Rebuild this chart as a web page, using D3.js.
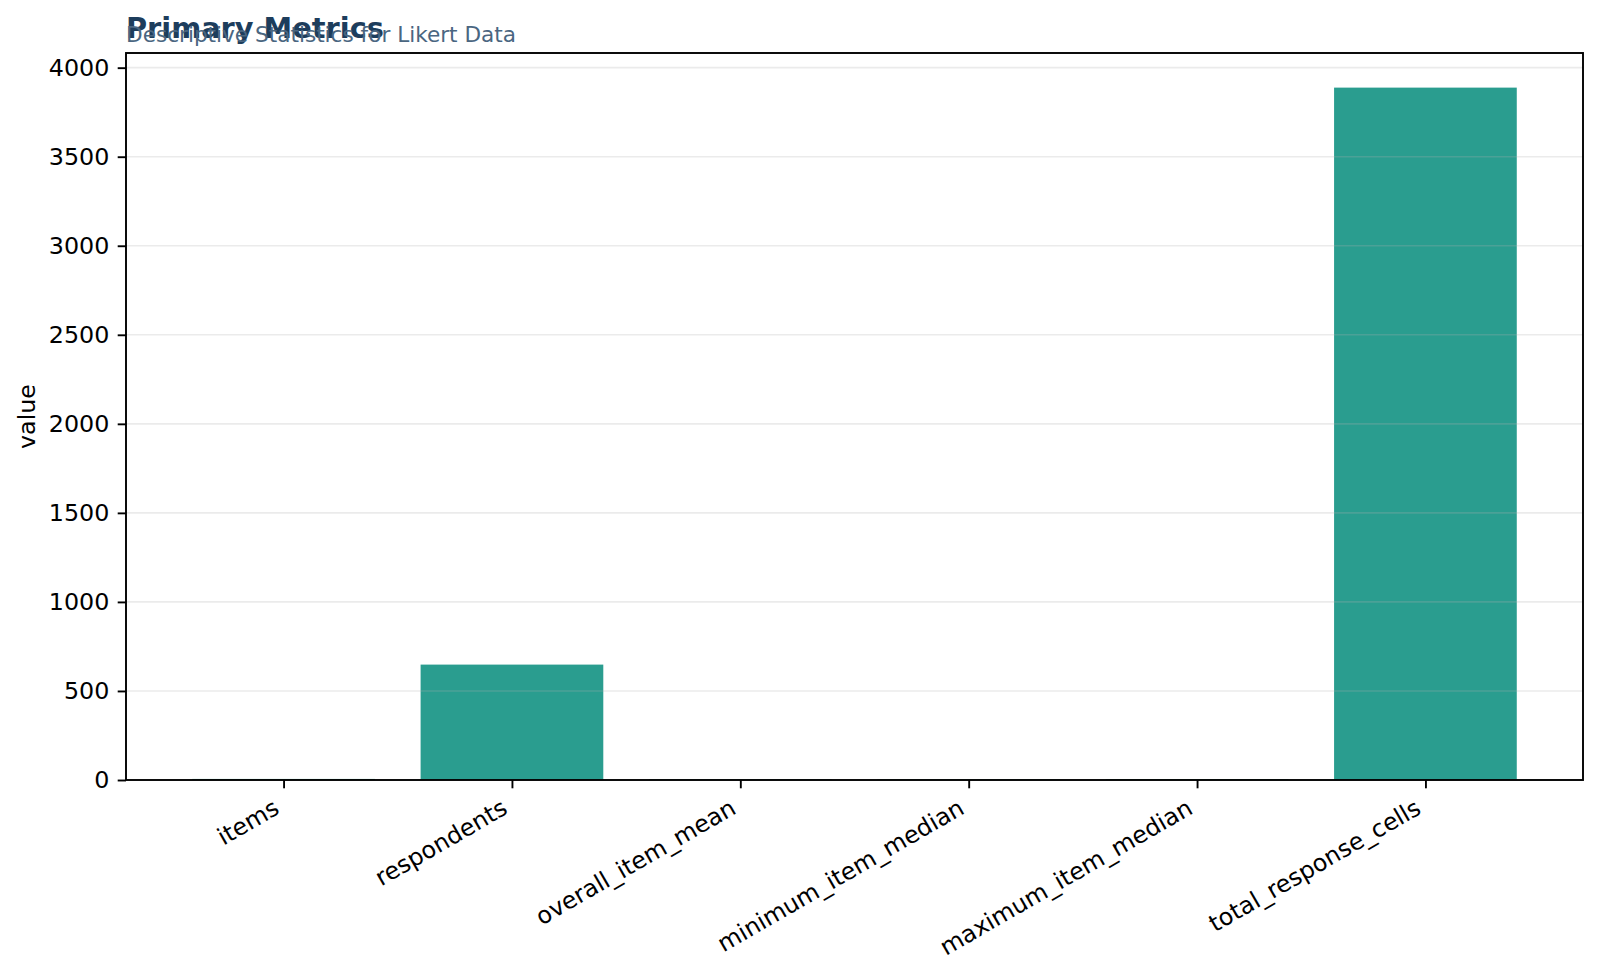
<!DOCTYPE html>
<html>
<head>
<meta charset="utf-8">
<script src="https://cdn.jsdelivr.net/npm/d3@7"></script>
<style>
  body { margin: 0; background: #fff; }
  text { font-family: "DejaVu Sans", sans-serif; }
</style>
</head>
<body>
<svg id="chart"></svg>
<script>
// Chart data
const metrics = ["items", "respondents", "overall_item_mean", "minimum_item_median", "maximum_item_median", "total_response_cells"];
const values = [6, 648, 3.4, 3, 4, 3888];
const yTicks = [0, 500, 1000, 1500, 2000, 2500, 3000, 3500, 4000];

const width = 1600;
const height = 978;
const margin = { top: 53, right: 17, bottom: 198, left: 126 };
const plotW = width - margin.left - margin.right;
const plotH = height - margin.top - margin.bottom;
const tickFont = 23.8;

const svg = d3.select("#chart")
    .attr("width", width)
    .attr("height", height);

// x: bars of width 0.8 with 5% padding, like matplotlib
const x = d3.scaleLinear()
    .domain([-0.69, metrics.length - 1 + 0.69])
    .range([margin.left, margin.left + plotW]);

const y = d3.scaleLinear()
    .domain([0, d3.max(values) * 1.05])
    .range([margin.top + plotH, margin.top]);

// Bars
svg.append("g")
    .selectAll("rect")
    .data(values)
    .enter().append("rect")
    .attr("x", (d, i) => x(i - 0.4))
    .attr("width", x(0.4) - x(-0.4))
    .attr("y", d => y(d))
    .attr("height", d => y(0) - y(d))
    .attr("fill", "#2a9d8f");

// Grid lines (drawn over bars, faint)
svg.append("g")
    .selectAll("line")
    .data(yTicks)
    .enter().append("line")
    .attr("x1", margin.left)
    .attr("x2", margin.left + plotW)
    .attr("y1", d => y(d))
    .attr("y2", d => y(d))
    .attr("stroke", "#b0b0b0")
    .attr("stroke-opacity", 0.25)
    .attr("stroke-width", 1.6);

// Y axis
const yAxis = svg.append("g")
    .attr("transform", `translate(${margin.left},0)`)
    .call(d3.axisLeft(y).tickValues(yTicks).tickSize(8.3).tickPadding(8.3).tickFormat(d3.format("d")));
yAxis.select(".domain").remove();
yAxis.selectAll("line").attr("stroke", "#000").attr("stroke-width", 1.9);
yAxis.selectAll("text").style("font-size", tickFont + "px").attr("fill", "#000");

// X axis
const xAxis = svg.append("g")
    .attr("transform", `translate(0,${margin.top + plotH})`)
    .call(d3.axisBottom(x).tickValues(d3.range(metrics.length)).tickSize(8.3).tickFormat(""));
xAxis.select(".domain").remove();
xAxis.selectAll("line").attr("stroke", "#000").attr("stroke-width", 1.9);

// rotated labels: right edge of the rotated box sits on the tick
const boxShift = tickFont * 0.5;
svg.append("g")
    .selectAll("text")
    .data(metrics)
    .enter().append("text")
    .attr("transform", (d, i) => `translate(${x(i) - boxShift},${margin.top + plotH + 17}) rotate(-30)`)
    .attr("dy", "0.76em")
    .attr("text-anchor", "end")
    .style("font-size", tickFont + "px")
    .attr("fill", "#000")
    .text(d => d);

// Frame
svg.append("rect")
    .attr("x", margin.left)
    .attr("y", margin.top)
    .attr("width", plotW)
    .attr("height", plotH)
    .attr("fill", "none")
    .attr("stroke", "#000")
    .attr("stroke-width", 1.9);

// Y label
svg.append("text")
    .attr("transform", `translate(35,${margin.top + plotH / 2}) rotate(-90)`)
    .attr("text-anchor", "middle")
    .style("font-size", tickFont + "px")
    .text("value");

// Title + subtitle (they overlap in the original)
svg.append("text")
    .attr("x", margin.left)
    .attr("y", 38)
    .style("font-size", "28.8px")
    .style("font-weight", "bold")
    .attr("fill", "#1d3d5c")
    .text("Primary Metrics");

svg.append("text")
    .attr("x", margin.left)
    .attr("y", 42)
    .style("font-size", "21.6px")
    .attr("fill", "#4a6681")
    .text("Descriptive Statistics for Likert Data");
</script>
</body>
</html>
